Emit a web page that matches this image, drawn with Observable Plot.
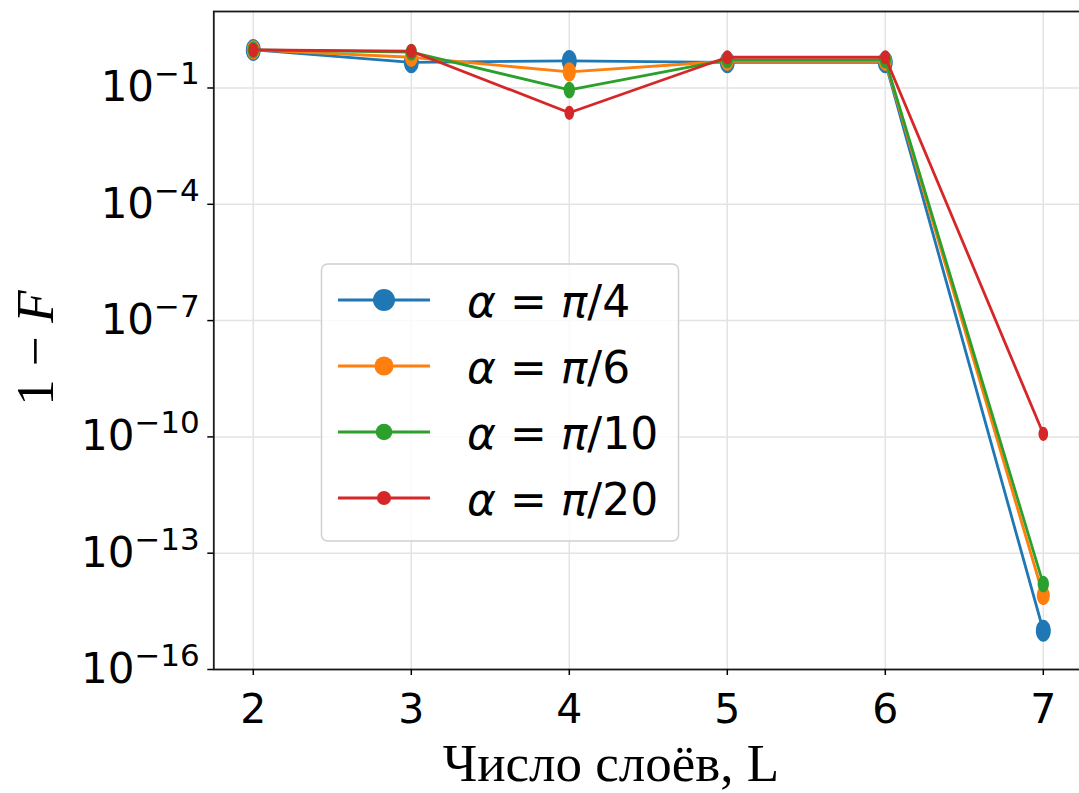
<!DOCTYPE html>
<html><head><meta charset="utf-8">
<script src="https://cdn.jsdelivr.net/npm/d3@7"></script>
<script src="https://cdn.jsdelivr.net/npm/@observablehq/plot@0.6"></script>
<style>body{margin:0;background:#fff;} #chart svg{display:block;}</style>
</head><body><div id="chart"></div>
<script>
// ---- data ----
const layers = [2, 3, 4, 5, 6, 7];
const seriesNames = ["α = π/4", "α = π/6", "α = π/10", "α = π/20"];
const valuesPi4  = [0.96, 0.46, 0.50,  0.46, 0.46, 1.0e-15];
const valuesPi6  = [0.96, 0.62, 0.26,  0.49, 0.49, 8.1e-15];
const valuesPi10 = [0.96, 0.84, 0.089, 0.53, 0.53, 1.6e-14];
const valuesPi20 = [0.96, 0.89, 0.023, 0.62, 0.62, 1.2e-10];
const xTicks = [2, 3, 4, 5, 6, 7];
const yTicks = [1e-1, 1e-4, 1e-7, 1e-10, 1e-13, 1e-16];
const yTickExponents = ["−1", "−4", "−7", "−10", "−13", "−16"];
const xLabel = "Число слоёв, L";

// ---- styles ----
const colors = ["#1f77b4", "#ff7f0e", "#2ca02c", "#d62728"];
const markerR = [11, 9.6, 8.3, 7.1];
const allValues = [valuesPi4, valuesPi6, valuesPi10, valuesPi20];

const rows = seriesNames.map((name, i) =>
  layers.map((L, j) => ({series: name, L, v: allValues[i][j]})));

// elliptical marker (markers are horizontally compressed in the reference)
const ellipse = {
  draw(ctx, size) {
    const r = Math.sqrt(size / Math.PI), rx = r * 0.68, ry = r, k = 0.5523;
    ctx.moveTo(rx, 0);
    ctx.bezierCurveTo(rx, ry * k, rx * k, ry, 0, ry);
    ctx.bezierCurveTo(-rx * k, ry, -rx, ry * k, -rx, 0);
    ctx.bezierCurveTo(-rx, -ry * k, -rx * k, -ry, 0, -ry);
    ctx.bezierCurveTo(rx * k, -ry, rx, -ry * k, rx, 0);
    ctx.closePath();
  }
};

const seriesMarks = rows.flatMap((data, i) => [
  Plot.line(data, {x: "L", y: "v", stroke: colors[i], strokeWidth: 2.8}),
  Plot.dot(data, {x: "L", y: "v", symbol: ellipse, r: markerR[i], fill: colors[i], stroke: "none"})
]);

const plot = Plot.plot({
  width: 1079, height: 793,
  marginLeft: 213.3, marginRight: -3.3, marginTop: 11, marginBottom: 124,
  x: {domain: [1.75, 7.25], label: null},
  y: {type: "log", domain: [1e-16, Math.pow(10, 0.973)], label: null},
  style: {fontFamily: "DejaVu Sans", background: "white", color: "black", overflow: "hidden"},
  marks: [
    Plot.gridX(xTicks, {stroke: "#e3e3e3", strokeOpacity: 1, strokeWidth: 1.5}),
    Plot.gridY(yTicks, {stroke: "#e3e3e3", strokeOpacity: 1, strokeWidth: 1.5}),
    ...seriesMarks,
    Plot.frame({stroke: "#1a1a1a", strokeWidth: 1.8}),
    Plot.axisX(xTicks, {tickSize: 6, tickPadding: 18, fontSize: 41, strokeWidth: 1.5, label: null,
      tickFormat: d => String(d)}),
    Plot.axisY(yTicks, {tickSize: 6, tickPadding: 8, fontSize: 42, strokeWidth: 1.5, label: null,
      tickFormat: d => "10^" + yTickExponents[yTicks.indexOf(d)]})
  ]
});
document.getElementById("chart").appendChild(plot);

const svg = d3.select(plot);
// superscripts for the log tick labels
svg.selectAll('g[aria-label="y-axis tick label"] text').each(function() {
  const t = this.textContent;
  if (!t.includes("^")) return;
  const [base, exp] = t.split("^");
  const el = d3.select(this);
  el.text(null);
  el.append("tspan").text(base);
  el.append("tspan").attr("dy", "-17").attr("font-size", "31").text(exp);
});

// axis labels
svg.append("text")
  .attr("transform", "translate(53,348) rotate(-90)")
  .attr("text-anchor", "middle")
  .attr("font-family", "Liberation Serif")
  .attr("font-size", 53)
  .attr("fill", "black")
  .style("white-space", "pre")
  .html('1 − <tspan font-style="italic">F</tspan>');

svg.append("text")
  .attr("x", 611).attr("y", 781)
  .attr("text-anchor", "middle")
  .attr("font-family", "Liberation Serif")
  .attr("font-size", 53)
  .attr("fill", "black")
  .text(xLabel);

// legend
const lg = svg.append("g").attr("font-family", "DejaVu Sans").attr("text-anchor", "start");
lg.append("rect")
  .attr("x", 321.5).attr("y", 264).attr("width", 357).attr("height", 277)
  .attr("rx", 6).attr("fill", "white").attr("fill-opacity", 0.8)
  .attr("stroke", "#d0d0d0").attr("stroke-width", 1.5);
seriesNames.forEach((name, i) => {
  const cy = 300 + i * 66;
  lg.append("line").attr("x1", 338).attr("x2", 430).attr("y1", cy).attr("y2", cy)
    .attr("stroke", colors[i]).attr("stroke-width", 2.8);
  lg.append("circle").attr("cx", 384).attr("cy", cy).attr("r", markerR[i]).attr("fill", colors[i]);
  const parts = name.split(" ");
  const t = lg.append("text").attr("x", 467).attr("y", cy + 17).attr("font-size", 44)
    .attr("fill", "black").style("white-space", "pre");
  t.append("tspan").attr("font-style", "italic").text("α");
  t.append("tspan").text(" = ");
  t.append("tspan").attr("font-style", "italic").text("π");
  t.append("tspan").text(parts[2].slice(1));
});
</script>
</body></html>
